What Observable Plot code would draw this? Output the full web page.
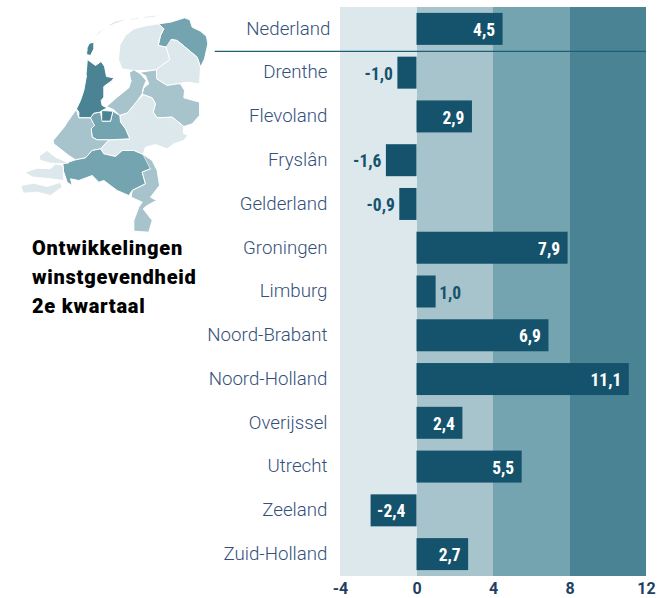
<!DOCTYPE html>
<html><head><meta charset="utf-8">
<script src="https://cdn.jsdelivr.net/npm/d3@7"></script>
<script src="https://cdn.jsdelivr.net/npm/@observablehq/plot@0.6"></script>
<style>
html,body{margin:0;padding:0;background:#fff}
#wrap{position:relative;width:657px;height:598px;overflow:hidden}
#wrap>svg,#wrap>div{position:absolute;left:0;top:0}
#title{left:32px!important;top:234px!important;font:900 20px/29px Roboto,sans-serif;color:#000;letter-spacing:.75px;white-space:nowrap}
</style></head><body><div id="wrap"></div>
<script>
const regions=["Nederland","Drenthe","Flevoland","Fryslân","Gelderland","Groningen","Limburg","Noord-Brabant","Noord-Holland","Overijssel","Utrecht","Zeeland","Zuid-Holland"];
const values=[4.5,-1.0,2.9,-1.6,-0.9,7.9,1.0,6.9,11.1,2.4,5.5,-2.4,2.7];
const outsideLabels=["Drenthe","Fryslân","Gelderland","Limburg"];
const bandEdges=[-4,0,4,8,12];
const bandColors=["#dde8ed","#a7c4cd","#74a4b0","#4a8394"];
const xTicks=[-4,0,4,8,12];
const titleLines=["Ontwikkelingen","winstgevendheid","2e kwartaal"];

// Province outlines (map units, 3 per pixel)
const provinceBand={"Groningen":2,"Fryslân":0,"Drenthe":0,"Overijssel":1,"Flevoland":1,"Gelderland":0,"Utrecht":2,"Noord-Holland":3,"Zuid-Holland":1,"Noord-Brabant":2,"Limburg":1,"Zeeland":0};
const outlines=[
["Groningen",[[475,70],[510,65],[552,52],[568,58],[575,80],[600,92],[618,108],[622,130],[612,175],[600,200],[590,170],[560,145],[530,120],[512,117],[497,140],[473,135],[480,105],[490,85]]],
["Fryslân",[[360,130],[375,105],[400,85],[440,75],[475,70],[490,85],[480,105],[473,135],[497,140],[508,178],[490,190],[468,208],[440,210],[400,210],[365,205],[355,180]]],
["Fryslân",[[325,72],[345,62],[378,54],[370,60],[330,76]]],
["Fryslân",[[390,55],[420,50],[410,57],[393,59]]],
["Fryslân",[[430,48],[490,42],[460,50],[435,53]]],
["Fryslân",[[280,110],[298,92],[316,82],[300,96]]],
["Drenthe",[[512,117],[530,120],[560,145],[590,170],[600,200],[597,250],[560,245],[530,250],[500,255],[468,235],[468,208],[490,190],[508,178],[497,140]]],
["Overijssel",[[420,215],[468,208],[468,235],[500,255],[530,250],[540,250],[552,270],[550,292],[597,305],[597,345],[575,370],[550,378],[515,350],[470,352],[458,335],[465,310],[455,292],[430,283],[425,280],[430,262],[445,250],[435,225]]],
["Flevoland",[[388,215],[400,208],[420,220],[437,240],[428,262],[425,280],[405,308],[380,338],[358,345],[340,328],[318,318],[350,290],[385,262],[392,240]]],
["Gelderland",[[430,283],[455,292],[465,310],[458,335],[470,352],[515,350],[550,378],[548,398],[562,405],[550,420],[520,430],[500,445],[465,432],[435,440],[428,462],[400,450],[365,450],[345,468],[310,460],[300,445],[325,418],[388,415],[375,385],[360,365],[358,345],[380,338],[405,308]]],
["Utrecht",[[270,352],[280,338],[300,335],[305,362],[330,362],[337,332],[358,345],[360,365],[375,385],[388,415],[325,418],[290,418],[275,410],[272,385],[282,375]]],
["Noord-Holland",[[262,178],[285,195],[302,183],[312,198],[318,228],[340,232],[335,240],[310,258],[310,290],[302,300],[305,315],[320,322],[305,330],[298,335],[280,338],[270,352],[235,352],[235,335],[228,325],[240,300],[250,270],[258,225]]],
["Noord-Holland",[[305,330],[337,332],[330,362],[305,362]]],
["Noord-Holland",[[268,128],[280,125],[280,145],[270,165],[258,162],[260,145]]],
["Zuid-Holland",[[228,328],[235,352],[270,352],[282,375],[272,385],[275,410],[290,418],[325,418],[300,445],[275,450],[255,472],[225,478],[205,465],[160,430],[158,420],[195,375]]],
["Noord-Brabant",[[188,490],[225,478],[255,472],[275,450],[300,445],[310,460],[345,468],[365,450],[400,450],[428,462],[450,505],[425,515],[435,550],[395,570],[385,585],[350,570],[310,540],[295,545],[275,525],[235,540],[210,535],[215,555],[200,545],[190,515]]],
["Limburg",[[428,462],[455,480],[470,510],[477,555],[450,590],[468,600],[440,615],[428,625],[455,660],[445,695],[400,692],[400,660],[415,620],[425,605],[392,590],[395,570],[435,550],[425,515],[450,505]]],
["Zeeland",[[118,465],[140,450],[165,470],[205,487],[185,490],[150,488],[120,480]]],
["Zeeland",[[75,515],[110,503],[150,505],[165,490],[188,495],[190,540],[150,535],[100,530]]],
["Zeeland",[[62,555],[100,548],[140,558],[180,545],[185,560],[150,585],[110,575],[70,578]]]
];

const rows=regions.map((r,i)=>({region:r,value:values[i]}));
const bands=bandColors.map((c,i)=>({a:bandEdges[i],b:bandEdges[i+1],c}));
const fmt=v=>v.toFixed(1).replace(".",",");
const labelFont={fontFamily:"'Liberation Sans Narrow','Roboto Condensed',Roboto,sans-serif",fontWeight:700,fontSize:17.5};
const inside=rows.filter(d=>!outsideLabels.includes(d.region));
const outside=rows.filter(d=>outsideLabels.includes(d.region));

const chart=Plot.plot({
  width:657,height:598,marginLeft:340,marginRight:11,marginTop:7,marginBottom:22,
  style:{background:"transparent",overflow:"visible"},
  x:{domain:[-4,12],ticks:xTicks,label:null},
  y:{type:"band",domain:regions,paddingInner:.269,paddingOuter:.1345,round:false,label:null},
  marks:[
    Plot.rect(bands,{x1:"a",x2:"b",fill:"c",shapeRendering:"crispEdges"}),
    Plot.ruleY(["Nederland"],{y:d=>d,x1:-10.55,x2:12,dy:22,stroke:"#1d5f78",strokeWidth:1.3}),
    Plot.barX(rows,{x:"value",y:"region",fill:"#15536d"}),
    Plot.text(inside.filter(d=>d.value>0),{x:"value",y:"region",text:d=>fmt(d.value),textAnchor:"end",dx:-8,dy:1,fill:"#fff",...labelFont}),
    Plot.text(inside.filter(d=>d.value<0),{x:"value",y:"region",text:d=>fmt(d.value),textAnchor:"start",dx:6,dy:1,fill:"#fff",...labelFont}),
    Plot.text(outside.filter(d=>d.value<0),{x:"value",y:"region",text:d=>fmt(d.value),textAnchor:"end",dx:-5,dy:1,fill:"#15536d",...labelFont}),
    Plot.text(outside.filter(d=>d.value>0),{x:"value",y:"region",text:d=>fmt(d.value),textAnchor:"start",dx:3,dy:1,fill:"#15536d",...labelFont}),
    Plot.axisY(regions.filter(r=>r!=="Nederland"),{tickSize:0,tickPadding:13,dy:-0.7,fontFamily:"Roboto,sans-serif",fontWeight:300,fontSize:18.7,fill:"#34507a",anchor:"left"}),
    Plot.axisY(["Nederland"],{tickSize:0,tickPadding:10,fontFamily:"Roboto,sans-serif",fontWeight:300,fontSize:18.7,fill:"#34507a",anchor:"left"}),
    Plot.axisX(xTicks,{tickSize:0,tickPadding:6.5,tickFormat:d=>String(d),fontFamily:"Roboto,sans-serif",fontWeight:700,fontSize:16,fill:"#1f3f63",anchor:"bottom",label:null})
  ]
});

const mapData=outlines.flatMap(([p,pts],k)=>pts.map(([mx,my])=>({k,mx,my,c:bandColors[provinceBand[p]]})));
const map=Plot.plot({
  width:220,height:240,margin:0,axis:null,
  style:{background:"transparent"},
  x:{domain:[0,660]},
  y:{domain:[0,720],reverse:true},
  marks:[Plot.line(mapData,{x:"mx",y:"my",z:"k",fill:"c",stroke:"#fff",strokeWidth:1,strokeLinejoin:"round"})]
});

const wrap=document.getElementById("wrap");
wrap.append(chart,map);
const t=document.createElement("div");t.id="title";
titleLines.forEach(l=>{const d=document.createElement("div");d.textContent=l;t.append(d);});
wrap.append(t);
</script></body></html>
